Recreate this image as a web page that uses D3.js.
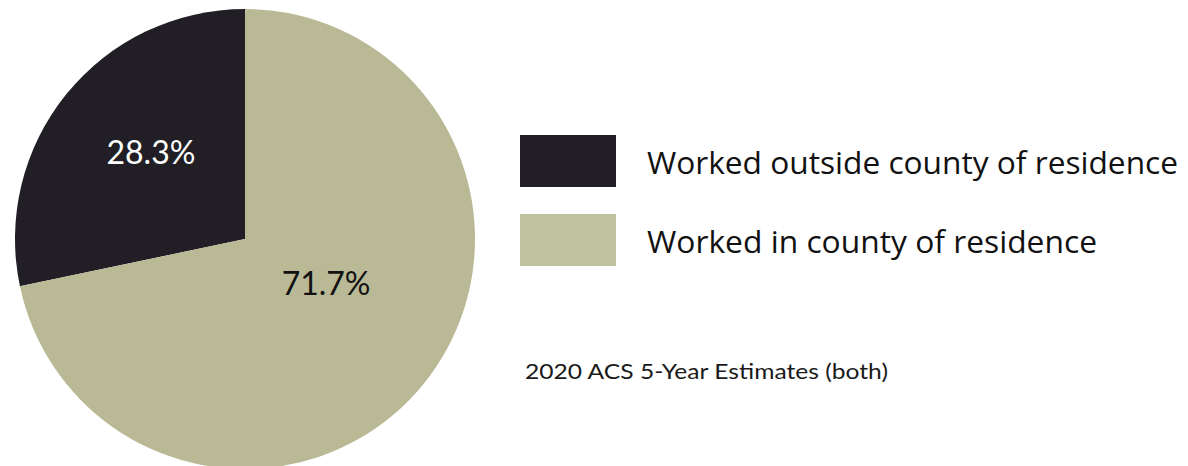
<!DOCTYPE html>
<html>
<head>
<meta charset="utf-8">
<script src="https://cdn.jsdelivr.net/npm/d3@7"></script>
<style>
  html, body { margin: 0; padding: 0; background: #ffffff; }
  svg { display: block; }
</style>
</head>
<body>
<svg id="chart" width="1188" height="466"></svg>
<script>
// ---- data ----
const categories = ["Worked outside county of residence", "Worked in county of residence"];
const shares = [28.3, 71.7];
const sliceLabels = ["28.3%", "71.7%"];
const sourceNote = "2020 ACS 5-Year Estimates (both)";

// ---- style / layout ----
const sliceColors = ["#211f25", "#b9b996"];
const swatchColors = ["#211f25", "#c0c39f"];
const labelColors = ["#ffffff", "#111111"];
const cx = 245, cy = 239, radius = 230;
const labelRadius = [0.56, 0.40];
const labelAngleShift = [0.07, -0.19];

const svg = d3.select("#chart");
const total = d3.sum(shares);
const start = -2 * Math.PI * shares[0] / total;

const pie = d3.pie().sort(null).value(d => d)
  .startAngle(start).endAngle(start + 2 * Math.PI);
const arcs = pie(shares);
const arc = d3.arc().innerRadius(0).outerRadius(radius);

const g = svg.append("g").attr("transform", `translate(${cx},${cy})`);
g.selectAll("path.slice").data(arcs).join("path")
  .attr("class", "slice")
  .attr("d", arc)
  .attr("fill", (d, i) => sliceColors[i]);

g.selectAll("text.lbl").data(arcs).join("text")
  .attr("class", "lbl")
  .each(function(d, i) {
    const a = (d.startAngle + d.endAngle) / 2 + labelAngleShift[i];
    const r = radius * labelRadius[i];
    d3.select(this)
      .attr("x", r * Math.sin(a))
      .attr("y", -r * Math.cos(a));
  })
  .attr("text-anchor", "middle")
  .attr("dominant-baseline", "central")
  .attr("font-family", "Lato, sans-serif")
  .attr("font-size", 32)
  .attr("fill", (d, i) => labelColors[i])
  .text((d, i) => sliceLabels[i]);

// ---- legend ----
const legendY = d3.scaleBand().domain(categories).range([135, 266]).paddingInner(0.342).paddingOuter(0);
const leg = svg.append("g");
leg.selectAll("rect").data(categories).join("rect")
  .attr("x", 520)
  .attr("y", d => legendY(d))
  .attr("width", 96)
  .attr("height", legendY.bandwidth())
  .attr("fill", (d, i) => swatchColors[i]);

const legendTextWidths = [531, 450];
leg.selectAll("text").data(categories).join("text")
  .attr("x", 647)
  .attr("y", d => legendY(d) + legendY.bandwidth() / 2 + 1)
  .attr("dominant-baseline", "central")
  .attr("font-family", "'Open Sans', sans-serif")
  .attr("font-size", 30.5)
  .attr("fill", "#111111")
  .attr("textLength", (d, i) => legendTextWidths[i])
  .attr("lengthAdjust", "spacingAndGlyphs")
  .text(d => d);

svg.append("text")
  .attr("x", 525)
  .attr("y", 379)
  .attr("font-family", "Lato, sans-serif")
  .attr("font-size", 21)
  .attr("fill", "#1a1a1a")
  .attr("textLength", 363)
  .attr("lengthAdjust", "spacingAndGlyphs")
  .text(sourceNote);
</script>
</body>
</html>
